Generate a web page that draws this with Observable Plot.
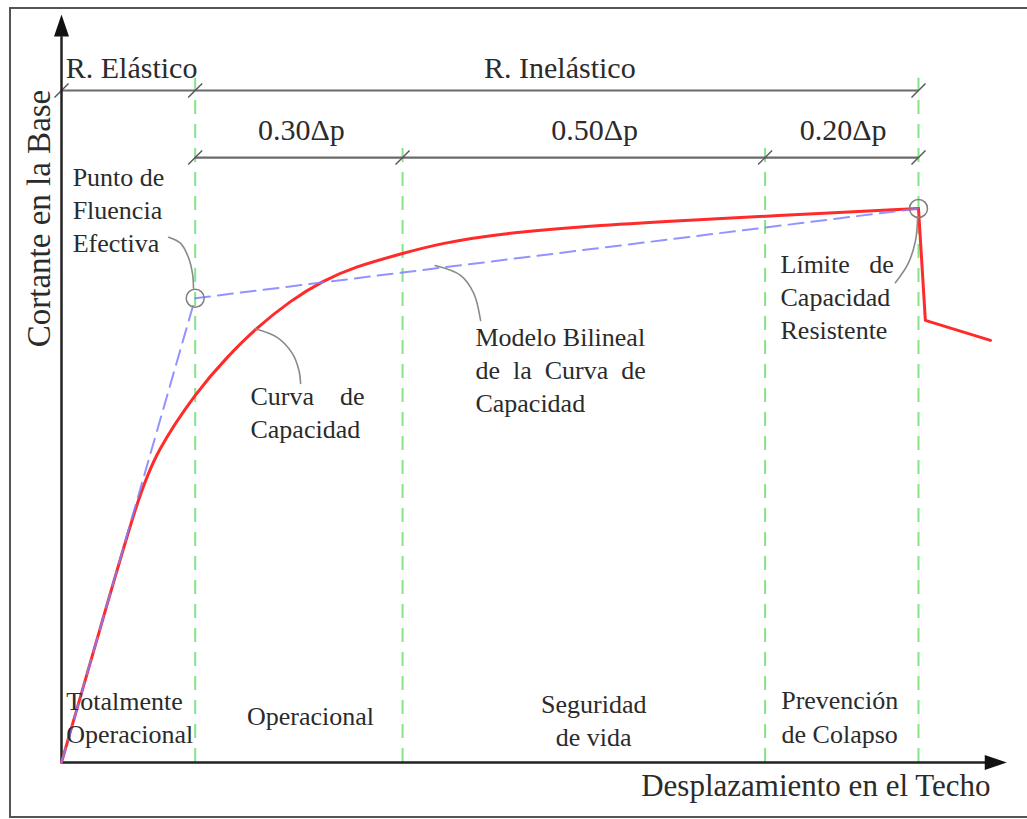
<!DOCTYPE html>
<html><head><meta charset="utf-8">
<script src="https://cdn.jsdelivr.net/npm/d3@7"></script>
<script src="https://cdn.jsdelivr.net/npm/@observablehq/plot@0.6"></script>
<style>
html,body{margin:0;padding:0;background:#fff;overflow:hidden;}
#wrap{position:relative;width:1027px;height:819px;overflow:hidden;}
#frame{position:absolute;left:9px;top:7px;width:1040px;height:811px;border:2px solid #555;border-right:none;pointer-events:none;box-sizing:border-box;}
svg text{font-family:"Liberation Serif","Times New Roman",serif;}
</style></head><body><div id="wrap"><div id="frame"></div></div>
<script>
// Capacity curve (x: roof displacement, 100 = ultimate; y: base shear, 100 = max capacity)
const capX = [0, 4.4, 8.83, 11.0, 15.83, 19.33, 22.64, 26.72, 30.57, 34.07, 39.79, 44.22, 51.2, 62.9, 74.6, 81.9, 100];
const capY = [0, 23.6, 47.3, 56.0, 67.1, 73.2, 78.3, 83.4, 87.0, 89.4, 91.9, 93.7, 95.5, 97.0, 98.0, 98.6, 100];
// Post-peak drop
const dropX = [100, 100.8, 108.4];
const dropY = [100, 79.8, 76.2];
// Bilinear model
const bilinX = [0, 15.6, 100];
const bilinY = [0, 83.8, 100];
// Performance limits (vertical dashed lines)
const limitX = [15.6, 39.8, 82.1, 100];
const limitTop = [123.5, 112.3, 112.3, 123.5];
// Dimension lines
const dimY = [121.3, 109.2];
const dimStart = [0, 15.6];
const dimEnd = [100, 100];
const dimTickX = [0, 15.6, 100, 15.6, 39.8, 82.1, 100];
const dimTickY = [121.3, 121.3, 121.3, 109.2, 109.2, 109.2, 109.2];
// Header labels
const regionNames = ["R. Elástico", "R. Inelástico"];
const regionX = [0.5, 49.3];
const regionY = [123.6, 123.6];
const rangeNames = ["0.30Δp", "0.50Δp", "0.20Δp"];
const rangeX = [28.0, 62.2, 91.2];
const rangeY = [112.3, 112.3, 112.3];
// Performance levels
const levelFirst = "Totalmente\nOperacional";
const levelFirstX = 0.55, levelFirstY = 3.6;
const levelNames = ["Operacional", "Seguridad\nde vida", "Prevención\nde Colapso"];
const levelX = [29.05, 62.1, 90.8];
const levelY = [6.7, 2.9, 3.6];
// Annotations
const noteNames = ["Punto de\nFluencia\nEfectiva", "Curva\u00a0\u00a0\u00a0\u00a0de\nCapacidad",
  "Modelo Bilineal\nde\u00a0\u00a0la\u00a0\u00a0Curva\u00a0\u00a0de\nCapacidad", "Límite\u00a0\u00a0\u00a0de\nCapacidad\nResistente"];
const noteX = [1.3, 22.05, 48.3, 83.9];
const noteY = [92.1, 58.5, 63.2, 76.4];
// Key points (circled)
const keyX = [15.6, 100];
const keyY = [83.8, 100];
// Leader curves
const leaderId = [0,0,0,0,0, 1,1,1,1,1, 2,2,2,2, 3,3,3,3];
const leaderX = [12.5, 13.9, 14.8, 15.3, 15.4, 22.6, 25.2, 26.95, 27.7, 27.9, 43.6, 46.6, 48.1, 48.9, 99.9, 99.65, 98.8, 97.3];
const leaderY = [94.8, 93.7, 91.2, 88.1, 85.6, 78.3, 76.7, 73.8, 70.8, 68.4, 89.7, 87.9, 84.7, 79.8, 98.4, 94.2, 90.1, 86.6];
// Axes
const axisTipX = 110.3, axisTipY = 135;
const axisLabelX = "Desplazamiento en el Techo";
const axisLabelY = "Cortante en la Base";

const pts = (xs, ys) => xs.map((x, i) => ({x, y: ys[i]}));
const serif = "Liberation Serif";
const textFill = "#2b2b2b";

const arrowUp = {draw(ctx){ctx.moveTo(0,0);ctx.lineTo(7.5,22);ctx.lineTo(-7.5,22);ctx.closePath();}};
const arrowRight = {draw(ctx){ctx.moveTo(0,0);ctx.lineTo(-22,-7.5);ctx.lineTo(-22,7.5);ctx.closePath();}};
const slash = {draw(ctx){ctx.moveTo(-7,7);ctx.lineTo(7,-7);}};

const leaders = leaderX.map((x, i) => ({x, y: leaderY[i], z: leaderId[i]}));
const T = {fill: textFill, fontFamily: serif, lineAnchor: "bottom"};

const chart = Plot.plot({
  width: 1027, height: 819,
  marginLeft: 61, marginRight: 109, marginTop: 208, marginBottom: 57,
  x: {domain: [0, 100], axis: null},
  y: {domain: [0, 100], axis: null},
  style: {fontFamily: serif, background: "white", overflow: "visible"},
  marks: [
    Plot.ruleX(limitX, {x: d => d, y1: 0, y2: (d, i) => limitTop[i], stroke: "#86e486", strokeWidth: 2, strokeDasharray: "14,10"}),
    Plot.ruleY(dimY, {y: d => d, x1: (d, i) => dimStart[i], x2: (d, i) => dimEnd[i], stroke: "#6a6a6a", strokeWidth: 2.2}),
    Plot.dot(pts(dimTickX, dimTickY), {x: "x", y: "y", symbol: slash, stroke: "#555", strokeWidth: 1.4, fill: "none"}),
    Plot.ruleX([0], {y1: 0, y2: 131, stroke: "#222", strokeWidth: 2.5}),
    Plot.ruleY([0], {x1: 0, x2: 108, stroke: "#222", strokeWidth: 2.5}),
    Plot.dot([{x: 0, y: axisTipY}], {x: "x", y: "y", symbol: arrowUp, fill: "#111", stroke: "none"}),
    Plot.dot([{x: axisTipX, y: 0}], {x: "x", y: "y", symbol: arrowRight, fill: "#111", stroke: "none"}),
    Plot.line(pts(capX, capY), {x: "x", y: "y", curve: "basis", stroke: "#ff2b2b", strokeWidth: 3}),
    Plot.line(pts(dropX, dropY), {x: "x", y: "y", stroke: "#ff2b2b", strokeWidth: 3}),
    Plot.line(pts(bilinX, bilinY), {x: "x", y: "y", stroke: "#8080ff", strokeOpacity: 0.85, strokeWidth: 2, strokeDasharray: "15,8"}),
    Plot.dot(pts(keyX, keyY), {x: "x", y: "y", r: 9, stroke: "#808080", strokeWidth: 1.5, fill: "none"}),
    Plot.line(leaders, {x: "x", y: "y", z: "z", curve: "catmull-rom", stroke: "#8a8a8a", strokeWidth: 1.6}),
    Plot.text(regionNames, {...T, x: (d, i) => regionX[i], y: (d, i) => regionY[i], text: d => d, textAnchor: "start", fontSize: 30}),
    Plot.text(rangeNames, {...T, x: (d, i) => rangeX[i], y: (d, i) => rangeY[i], text: d => d, textAnchor: "middle", fontSize: 30}),
    Plot.text([levelFirst], {...T, x: levelFirstX, y: levelFirstY, text: d => d, textAnchor: "start", fontSize: 26, lineHeight: 1.25}),
    Plot.text(levelNames, {...T, x: (d, i) => levelX[i], y: (d, i) => levelY[i], text: d => d, textAnchor: "middle", fontSize: 26, lineHeight: 1.3}),
    Plot.text(noteNames, {...T, x: (d, i) => noteX[i], y: (d, i) => noteY[i], text: d => d, textAnchor: "start", fontSize: 26, lineHeight: 1.27}),
    Plot.text([axisLabelX], {...T, x: 108.4, y: -6.1, text: d => d, textAnchor: "end", fontSize: 31}),
    Plot.text([axisLabelY], {...T, x: -1.4, y: 98.2, text: d => d, rotate: -90, textAnchor: "middle", fontSize: 33})
  ]
});
document.getElementById("wrap").insertBefore(chart, document.getElementById("frame"));
</script>
</body></html>
